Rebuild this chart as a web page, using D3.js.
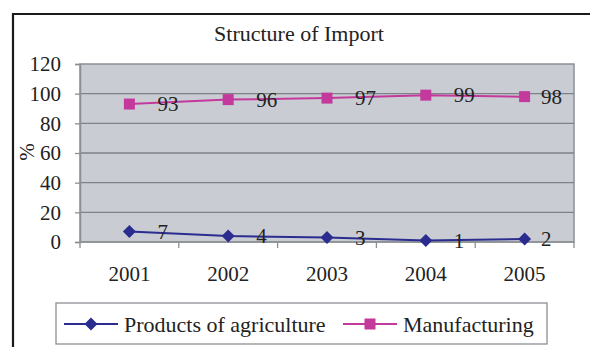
<!DOCTYPE html>
<html>
<head>
<meta charset="utf-8">
<script src="https://cdn.jsdelivr.net/npm/d3@7/dist/d3.min.js"></script>
<style>
  html, body { margin: 0; padding: 0; background: #fff; }
  svg { display: block; }
  svg text { font-family: "Liberation Serif", "Times New Roman", serif !important; fill: #222; }
</style>
</head>
<body>
<svg id="chart" width="590" height="347"></svg>
<script>
// Chart data
const years = ["2001", "2002", "2003", "2004", "2005"];
const agriculture = [7, 4, 3, 1, 2];
const manufacturing = [93, 96, 97, 99, 98];
const yTicks = [0, 20, 40, 60, 80, 100, 120];
const seriesNames = ["Products of agriculture", "Manufacturing"];
const seriesColors = ["#2b2c8f", "#c4399c"];

const FONT = "'Liberation Serif', 'Times New Roman', serif";
const svg = d3.select("#chart").attr("font-family", FONT);
const W = 590, H = 347;
const plot = { left: 80, top: 64, right: 574, bottom: 242 };

// Outer frame (bottom and right run off the canvas)
svg.append("path")
  .attr("d", `M13,${H + 2} L13,14 L${W + 2},14`)
  .attr("fill", "none").attr("stroke", "#1a1a1a").attr("stroke-width", 2.2);

svg.append("text")
  .attr("x", 299).attr("y", 41)
  .attr("text-anchor", "middle")
  .style("font-size", "22px")
  .text("Structure of Import");

const x = d3.scaleBand().domain(years).range([plot.left, plot.right]);
const y = d3.scaleLinear().domain([0, 120]).range([plot.bottom, plot.top]);

// Plot area
svg.append("rect")
  .attr("x", plot.left).attr("y", plot.top)
  .attr("width", plot.right - plot.left).attr("height", plot.bottom - plot.top)
  .attr("fill", "#c9cdd3").attr("stroke", "#8c9095").attr("stroke-width", 1.5);

// Gridlines
svg.append("g").selectAll("line")
  .data(yTicks.filter(t => t > 0 && t < 120))
  .join("line")
  .attr("x1", plot.left).attr("x2", plot.right)
  .attr("y1", d => y(d)).attr("y2", d => y(d))
  .attr("stroke", "#7e8287").attr("stroke-width", 1.3);

// Y axis
const yAxis = svg.append("g")
  .attr("transform", `translate(${plot.left},0)`)
  .call(d3.axisLeft(y).tickValues(yTicks).tickSize(5).tickPadding(14));
yAxis.attr("font-family", FONT).attr("font-size", 21);
yAxis.select(".domain").attr("stroke", "#8c9095").attr("stroke-width", 1.5);
yAxis.selectAll(".tick line").attr("stroke", "#8c9095").attr("stroke-width", 1.3);
yAxis.selectAll(".tick text").attr("fill", "#222");

// Y axis title
svg.append("text")
  .attr("transform", "translate(27,152) rotate(-90)")
  .attr("text-anchor", "middle").attr("dominant-baseline", "central")
  .style("font-size", "21px")
  .text("%");

// X axis: ticks on the category boundaries
const xAxis = svg.append("g")
  .attr("transform", `translate(0,${plot.bottom})`);
xAxis.append("line")
  .attr("x1", plot.left).attr("x2", plot.right)
  .attr("stroke", "#8c9095").attr("stroke-width", 1.5);
const bounds = years.map(d => x(d)).concat([x(years[years.length - 1]) + x.bandwidth()]);
xAxis.selectAll("line.tk").data(bounds).join("line")
  .attr("class", "tk")
  .attr("x1", d => d).attr("x2", d => d).attr("y1", 0).attr("y2", 6)
  .attr("stroke", "#8c9095").attr("stroke-width", 1.3);
xAxis.selectAll("text").data(years).join("text")
  .attr("x", d => x(d) + x.bandwidth() / 2).attr("y", 39)
  .attr("text-anchor", "middle")
  .style("font-size", "21px")
  .text(d => d);

const cx = d => x(d) + x.bandwidth() / 2;
const line = d3.line().x((d, i) => cx(years[i])).y(d => y(d));

function drawSeries(values, color, marker) {
  const g = svg.append("g");
  g.append("path").datum(values)
    .attr("d", line).attr("fill", "none")
    .attr("stroke", color).attr("stroke-width", 2);
  g.selectAll("path.m").data(values).join("path")
    .attr("class", "m")
    .attr("transform", (d, i) => `translate(${cx(years[i])},${y(d)})`)
    .attr("d", marker)
    .attr("fill", color);
  g.selectAll("text").data(values).join("text")
    .attr("x", (d, i) => Math.min(cx(years[i]) + 28, plot.right - 33))
    .attr("y", d => y(d))
    .attr("dominant-baseline", "central")
    .style("font-size", "21px")
    .text(d => d);
}

const square = "M-5.5,-5.5H5.5V5.5H-5.5Z";
const diamond = "M0,-6.5L6.5,0L0,6.5L-6.5,0Z";

drawSeries(manufacturing, seriesColors[1], square);
drawSeries(agriculture, seriesColors[0], diamond);

// Legend
const leg = svg.append("g");
leg.append("rect")
  .attr("x", 56).attr("y", 303).attr("width", 491).attr("height", 41)
  .attr("fill", "#fff").attr("stroke", "#8c9095").attr("stroke-width", 1.3);
const legItems = [
  { name: seriesNames[0], color: seriesColors[0], marker: diamond, x0: 64 },
  { name: seriesNames[1], color: seriesColors[1], marker: square, x0: 343 }
];
legItems.forEach(it => {
  leg.append("line")
    .attr("x1", it.x0).attr("x2", it.x0 + 54).attr("y1", 324).attr("y2", 324)
    .attr("stroke", it.color).attr("stroke-width", 2);
  leg.append("path")
    .attr("transform", `translate(${it.x0 + 27},324)`)
    .attr("d", it.marker).attr("fill", it.color);
  leg.append("text")
    .attr("x", it.x0 + 60).attr("y", 324)
    .attr("dominant-baseline", "central")
    .style("font-size", "22px")
    .text(it.name);
});
</script>
</body>
</html>
